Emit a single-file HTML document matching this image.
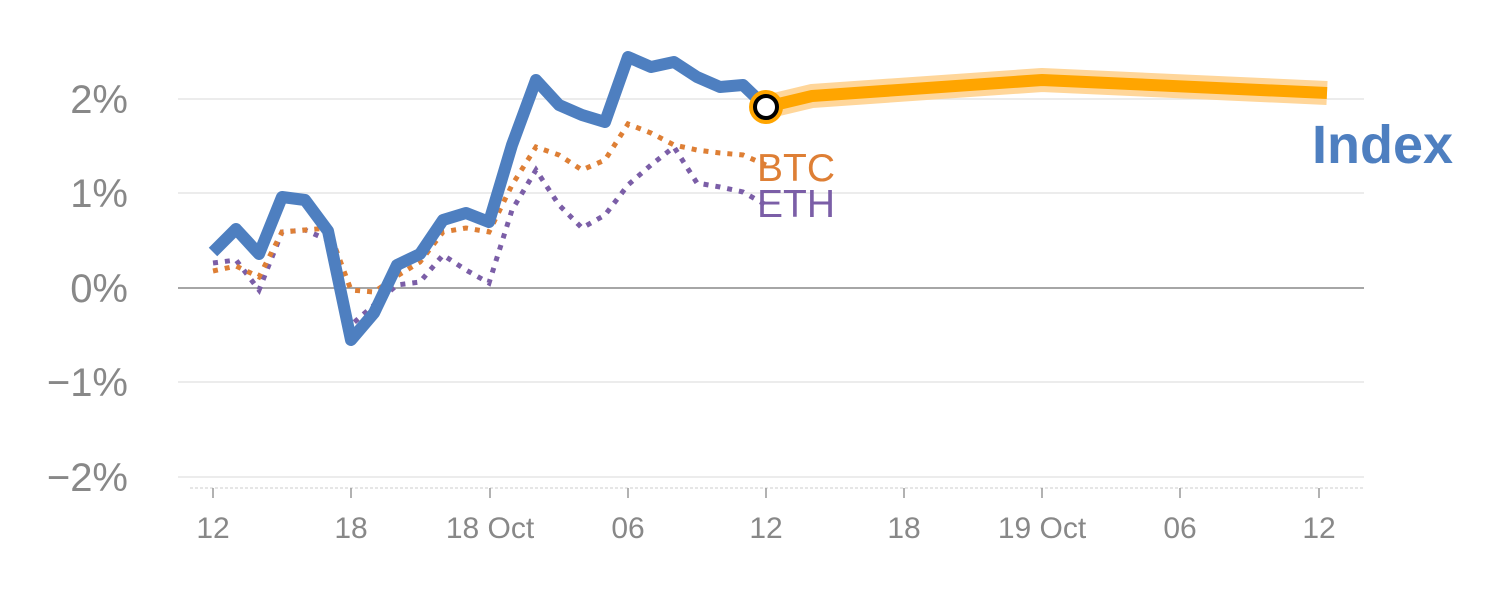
<!DOCTYPE html>
<html><head><meta charset="utf-8"><style>
html,body{margin:0;padding:0;background:#fff;}
svg{display:block;font-family:"Liberation Sans",Arial,sans-serif;}
</style></head><body>
<svg width="1500" height="600" viewBox="0 0 1500 600">
<g stroke="#e6e6e6" stroke-width="1.5">
<line x1="178" y1="99" x2="1364" y2="99"/>
<line x1="178" y1="193" x2="1364" y2="193"/>
<line x1="178" y1="382" x2="1364" y2="382"/>
<line x1="178" y1="477" x2="1364" y2="477"/>
</g>
<line x1="178" y1="288" x2="1364" y2="288" stroke="#888" stroke-width="1.5"/>
<line x1="190" y1="488" x2="1364" y2="488" stroke="#ddd" stroke-width="1.5" stroke-dasharray="3,2"/>
<g fill="#888" font-size="40" text-anchor="end">
<text x="128" y="113">2%</text>
<text x="128" y="207">1%</text>
<text x="128" y="302">0%</text>
<text x="128" y="396">−1%</text>
<text x="128" y="491">−2%</text>
</g>
<g stroke="#999" stroke-width="1.5">
<line x1="213" y1="488" x2="213" y2="498"/><line x1="351" y1="488" x2="351" y2="498"/>
<line x1="490" y1="488" x2="490" y2="498"/><line x1="628" y1="488" x2="628" y2="498"/>
<line x1="766" y1="488" x2="766" y2="498"/><line x1="904" y1="488" x2="904" y2="498"/>
<line x1="1042" y1="488" x2="1042" y2="498"/><line x1="1180" y1="488" x2="1180" y2="498"/>
<line x1="1319" y1="488" x2="1319" y2="498"/>
</g>
<g fill="#888" font-size="30" text-anchor="middle">
<text x="213" y="538">12</text><text x="351" y="538">18</text><text x="490" y="538">18 Oct</text>
<text x="628" y="538">06</text><text x="766" y="538">12</text><text x="904" y="538">18</text>
<text x="1042" y="538">19 Oct</text><text x="1180" y="538">06</text><text x="1319" y="538">12</text>
</g>
<polyline fill="none" stroke="#7b5ea7" stroke-width="5" stroke-dasharray="5,7" points="213,263 236,260 259,290 282,232 305,230 328,240 351,325 374,305 397,285 420,282 443,255 466,270 489,283 512,210 536,170 559,205 582,228 605,215 628,185 651,165 674,147 697,183 720,187 743,192 766,205"/>
<polyline fill="none" stroke="#de7f35" stroke-width="5" stroke-dasharray="5,7" points="213,271 236,266 259,277 282,232 305,230 328,228 351,290 374,292 397,276 420,262 443,232 466,228 489,232 512,185 536,147 559,155 582,170 605,160 628,124 651,133 674,145 697,150 720,153 743,155 766,165"/>
<polyline fill="none" stroke="#4e7fc0" stroke-width="12" stroke-linejoin="round" points="213,252 236,229 259,254 282,197 305,200 328,231 351,340 374,313 397,265 420,254 443,220 466,213 489,222 512,145 536,80 559,105 582,115 605,122 628,57 651,67 674,62 697,77 720,87 743,85 766,107"/>
<polyline fill="none" stroke="#ffd69a" stroke-width="24" stroke-linejoin="round" points="766,107 812,96 1042,80 1327,93"/>
<polyline fill="none" stroke="#ffa500" stroke-width="12" stroke-linejoin="round" points="766,107 812,96 1042,80 1327,93"/>
<circle cx="766" cy="107" r="17" fill="#ffa500"/>
<circle cx="766" cy="107" r="11" fill="#fff" stroke="#000" stroke-width="4"/>
<text x="757" y="181" fill="#de7f35" font-size="39">BTC</text>
<text x="757" y="217" fill="#7b5ea7" font-size="39">ETH</text>
<text x="1312" y="163" fill="#4e7fc0" font-size="54" font-weight="bold">Index</text>
</svg>
</body></html>
